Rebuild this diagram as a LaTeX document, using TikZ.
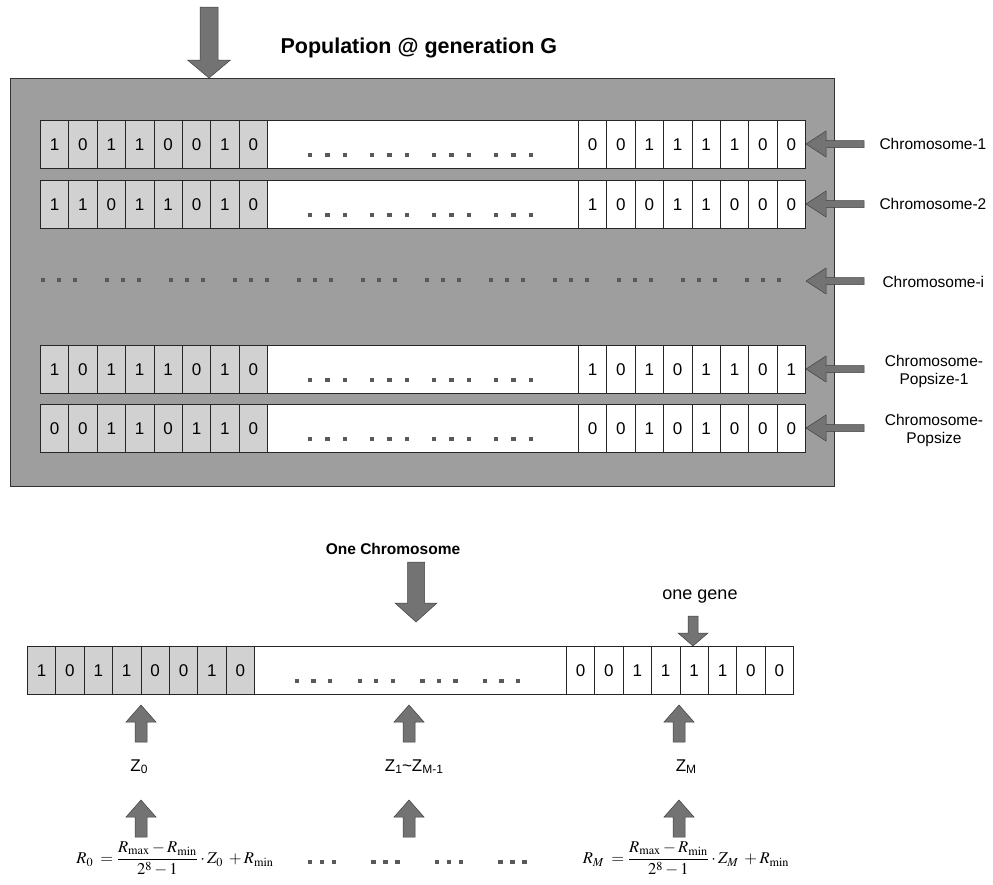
\documentclass[tikz,border=0pt]{standalone}
\usepackage{mathptmx}
\usepackage{fontspec}
\setmainfont{Liberation Sans}
\definecolor{boxgray}{gray}{0.62}
\definecolor{cellgray}{gray}{0.82}
\definecolor{arrgray}{gray}{0.45}
\tikzset{
  cellbox/.style={draw=black!85, line width=0.6pt, minimum width=28.4pt, minimum height=48pt,
    inner sep=0pt, anchor=north west, font=\fontsize{17}{17}\selectfont},
  leftcell/.style={cellbox, fill=cellgray},
  rightcell/.style={cellbox, fill=white},
  blk/.style={fill=arrgray, draw=black!75, line width=0.5pt},
  dotsq/.style={fill=black!65},
  lbl/.style={font=\fontsize{15.5}{18}\selectfont, align=center},
  ttl/.style={font=\bfseries\fontsize{21.5}{24}\selectfont},
  ttlsmall/.style={font=\bfseries\fontsize{15.5}{18}\selectfont},
  zlbl/.style={font=\fontsize{17}{18}\selectfont},
  frm/.style={font=\fontsize{16.5}{19}\selectfont},
}
% vertical block arrow: #1 x, #2 tip y, #3 shaft end y, #4 head base y, #5 shaft half width, #6 head half width
\newcommand\vblk[6]{\filldraw[blk] (#1,#2) -- ({#1-#6},#4) -- ({#1-#5},#4) -- ({#1-#5},#3) -- ({#1+#5},#3) -- ({#1+#5},#4) -- ({#1+#6},#4) -- cycle;}
% horizontal block arrow: #1 tip x, #2 y, #3 shaft end x, #4 head base x, #5 shaft half h, #6 head half h
\newcommand\hblk[6]{\filldraw[blk] (#1,#2) -- (#4,{#2-#6}) -- (#4,{#2-#5}) -- (#3,{#2-#5}) -- (#3,{#2+#5}) -- (#4,{#2+#5}) -- (#4,{#2+#6}) -- cycle;}
% chromosome row: #1 name, #2 x0, #3 ytop, #4 left bits, #5 right x, #6 right bits
\newcommand\chromrow[6]{%
  \draw[black!85, line width=0.6pt, fill=white] (#2,#3) rectangle ({#5+8*28.4},{#3+48});
  \foreach \b [count=\i] in {#4} \node[leftcell] (#1-l\i) at ({#2+(\i-1)*28.4},#3) {\b};
  \foreach \b [count=\i] in {#6} \node[rightcell] (#1-r\i) at ({#5+(\i-1)*28.4},#3) {\b};
}
% dot groups: #1 x start, #2 y, #3 group spacing, #4 dot spacing, #5 number of groups
\newcommand\dotgroups[5]{%
  \foreach \g in {1,...,#5} \foreach \d in {0,1,2}
    \fill[dotsq] ({#1+(\g-1)*#3+\d*#4-2.2},{#2-2.2}) rectangle ({#1+(\g-1)*#3+\d*#4+2.2},{#2+2.2});
}
\begin{document}
\begin{tikzpicture}[x=1pt,y=-1pt]
\useasboundingbox (0,0) rectangle (993,884);
% title and top arrow
\node[ttl, anchor=west] (poptitle) at (277,48) {Population @ generation G};
\vblk{209}{78}{7}{60}{9}{21.5}
% population box
\filldraw[fill=boxgray, draw=black!80, line width=0.8pt] (10,78) rectangle (834,486);
\chromrow{c1}{40}{120}{1,0,1,1,0,0,1,0}{578}{0,0,1,1,1,1,0,0}
\chromrow{c2}{40}{180}{1,1,0,1,1,0,1,0}{578}{1,0,0,1,1,0,0,0}
\chromrow{cp1}{40}{345}{1,0,1,1,1,0,1,0}{578}{1,0,1,0,1,1,0,1}
\chromrow{cp}{40}{404}{0,0,1,1,0,1,1,0}{578}{0,0,1,0,1,0,0,0}
\dotgroups{310}{155}{62}{17.5}{4}
\dotgroups{310}{215}{62}{17.5}{4}
\dotgroups{310}{380}{62}{17.5}{4}
\dotgroups{310}{439}{62}{17.5}{4}
\dotgroups{43}{280}{64}{16}{12}
% right arrows and labels
\hblk{806}{144}{864}{826}{3.5}{13}
\hblk{806}{204}{864}{826}{3.5}{13}
\hblk{806}{281}{864}{826}{3.5}{13}
\hblk{806}{369}{864}{826}{3.5}{13}
\hblk{806}{428}{864}{826}{3.5}{13}
\node[lbl, anchor=west] (l1) at (876,144) {Chromosome-1};
\node[lbl, anchor=west] (l2) at (876,204) {Chromosome-2};
\node[lbl, anchor=west] (li) at (879,282) {Chromosome-i};
\node[lbl] (lp1) at (934,371) {Chromosome-\\Popsize-1};
\node[lbl] (lp) at (934,430) {Chromosome-\\Popsize};
% one chromosome
\node[ttlsmall] (onechrom) at (393,549) {One Chromosome};
\vblk{416}{622}{562}{603}{8.5}{21}
\node[font=\fontsize{18}{20}\selectfont] (onegene) at (700,597) {one gene};
\vblk{693}{646}{616}{633}{5}{15}
\chromrow{b}{27}{646}{1,0,1,1,0,0,1,0}{566}{0,0,1,1,1,1,0,0}
\dotgroups{297}{681}{62.7}{16.5}{4}
% up arrows
\vblk{141}{705}{742}{722}{6}{15}
\vblk{409}{705}{742}{722}{6}{15}
\vblk{679}{705}{742}{722}{6}{15}
\node[zlbl] (z0) at (139,767) {Z\raisebox{-0.25ex}{\fontsize{12}{12}\selectfont 0}};
\node[zlbl] (z1) at (414,767) {Z\raisebox{-0.25ex}{\fontsize{12}{12}\selectfont 1}\textasciitilde Z\raisebox{-0.25ex}{\fontsize{12}{12}\selectfont M-1}};
\node[zlbl] (zm) at (686,767) {Z\raisebox{-0.25ex}{\fontsize{12}{12}\selectfont M}};
\vblk{141}{800}{837}{817}{6}{15}
\vblk{409}{800}{837}{817}{6}{15}
\vblk{679}{800}{837}{817}{6}{15}
% formulas
\node[frm] (f0) at (175,859) {$\displaystyle R_0\;=\frac{R_{\max}-R_{\min}}{2^8-1}\cdot Z_0\;+R_{\min}$};
\node[frm] (fm) at (686,859) {$\displaystyle R_M\;=\frac{R_{\max}-R_{\min}}{2^8-1}\cdot Z_M\;+R_{\min}$};
\dotgroups{310}{862}{63.5}{12}{4}
\end{tikzpicture}
\end{document}
